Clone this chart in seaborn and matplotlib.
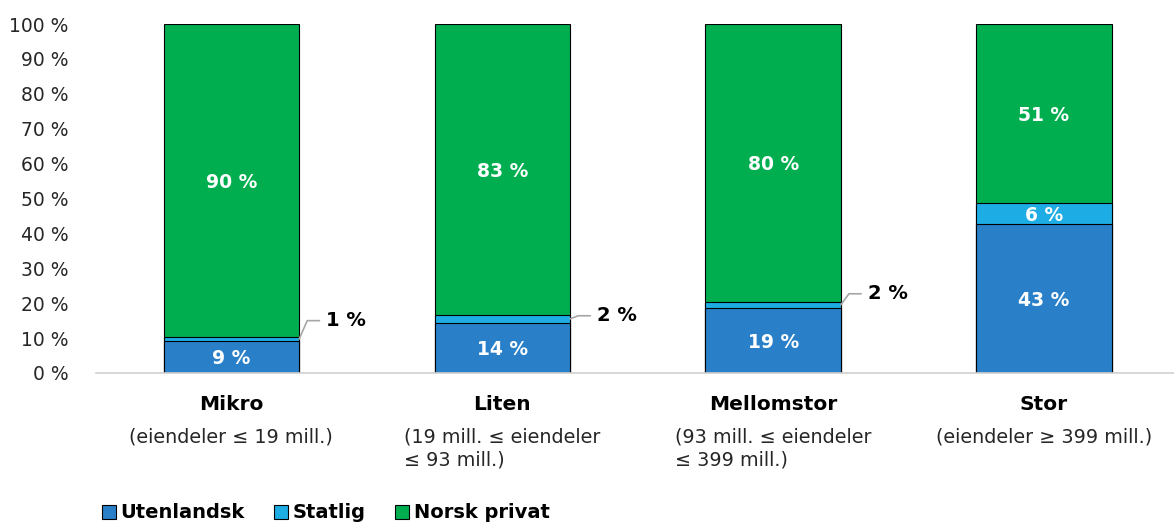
import numpy as np
import pandas as pd
import matplotlib
matplotlib.use("Agg")
import matplotlib.pyplot as plt
import seaborn as sns

# Data
categories = ["Mikro", "Liten", "Mellomstor", "Stor"]
subtitles = [
    "(eiendeler \u2264 19 mill.)",
    "(19 mill. \u2264 eiendeler\n\u2264 93 mill.)",
    "(93 mill. \u2264 eiendeler\n\u2264 399 mill.)",
    "(eiendeler \u2265 399 mill.)",
]
series = ["Utenlandsk", "Statlig", "Norsk privat"]
utenlandsk = [9.2, 14.4, 18.7, 42.8]
statlig = [1.1, 2.2, 1.7, 5.9]
norsk_privat = [89.7, 83.4, 79.6, 51.3]
colors = {"Utenlandsk": "#2980C8", "Statlig": "#1DACE3", "Norsk privat": "#00AE50"}

df = pd.DataFrame({
    "kategori": categories,
    "Utenlandsk": utenlandsk,
    "Statlig": statlig,
    "Norsk privat": norsk_privat,
})
cum = df[series].cumsum(axis=1)
bottoms = cum - df[series]

sns.set_style("white")
plt.rcParams["font.family"] = ["DejaVu Sans"]

fig = plt.figure(figsize=(11.74, 5.24), dpi=100)
ax = fig.add_axes([96 / 1174, 1 - 373 / 524, 1 - 96 / 1174, (373 - 24) / 524])

# stacked bars: draw cumulative totals from the top series down
for s in reversed(series):
    sns.barplot(x=df["kategori"], y=cum[s], color=colors[s], width=0.5,
                edgecolor="black", linewidth=0.8, ax=ax, saturation=1)

# value labels
for i, cat in enumerate(categories):
    for s in series:
        v = df.loc[i, s]
        mid = bottoms.loc[i, s] + v / 2
        if v >= 4:
            ax.text(i, mid - 0.5, f"{v:.0f} %", ha="center", va="center",
                    color="white", fontsize=13.5, fontweight="bold")

# small segments with leader lines
small_label_y = [15.0, 16.4, 22.7]
for i, ly in enumerate(small_label_y):
    v = df.loc[i, "Statlig"]
    mid = bottoms.loc[i, "Statlig"] + v / 2
    ax.plot([i + 0.25, i + 0.28, i + 0.325], [mid, ly, ly], color="#A6A6A6",
            lw=1.2, clip_on=False)
    ax.text(i + 0.35, ly, f"{v:.0f} %", ha="left", va="center", color="black",
            fontsize=14, fontweight="bold")

ax.set_xlim(-0.5, 3.48)
ax.set_ylim(0, 100)
ax.set_yticks(np.arange(0, 101, 10))
ax.set_yticklabels([f"{t} %" for t in range(0, 101, 10)], fontsize=13.5, color="#262626")
ax.tick_params(axis="y", length=0, pad=20)
ax.set_xticks(range(len(categories)))
ax.set_xticklabels([])
ax.tick_params(axis="x", length=0)
ax.set_xlabel("")
ax.set_ylabel("")
for sp in ["top", "right", "left"]:
    ax.spines[sp].set_visible(False)
ax.spines["bottom"].set_color("#D0D0D0")
ax.spines["bottom"].set_linewidth(1.2)

# category labels
for i, (cat, sub) in enumerate(zip(categories, subtitles)):
    ax.text(i, -8.9, cat, ha="center", va="center",
            fontsize=14.5, fontweight="bold", color="black")
    ax.text(i, -15.6, sub, ha="center", va="top", fontsize=13.8,
            multialignment="left", color="#262626", linespacing=1.25)

# legend
handles = [plt.Rectangle((0, 0), 1, 1, facecolor=colors[s], edgecolor="black", lw=0.8)
           for s in series]
leg = fig.legend(handles, series, loc="center left", bbox_to_anchor=(84 / 1174, 0.021),
                 ncol=3, frameon=False, handlelength=0.72, handleheight=0.72,
                 handletextpad=0.25, columnspacing=1.5,
                 prop={"weight": "bold", "size": 14})
for t in leg.get_texts():
    t.set_color("black")

fig.savefig("out.png", dpi=100)
